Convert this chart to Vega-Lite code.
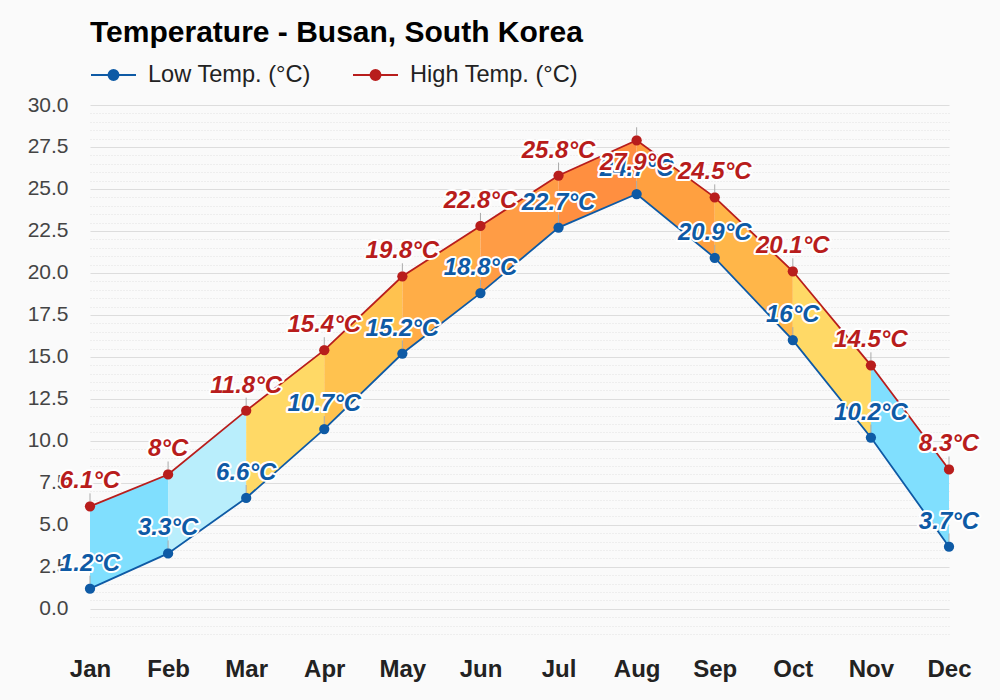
{
  "$schema": "https://vega.github.io/schema/vega-lite/v6.json",
  "width": 859,
  "height": 529,
  "autosize": {"type": "none"},
  "padding": {"left": 90, "top": 105, "right": 51, "bottom": 66},
  "background": "#fafafa",
  "title": {"text": "Temperature - Busan, South Korea", "anchor": "start", "frame": "group", "fontSize": 30, "font": "Liberation Sans", "fontWeight": "bold", "color": "#000000", "offset": 3},
  "config": {"view": {"stroke": null}, "font": "Liberation Sans", "axis": {"title": null}},
  "datasets": {
    "temps": [
      {"month": "Jan", "series": "low", "temp": 1.2}, {"month": "Feb", "series": "low", "temp": 3.3},
      {"month": "Mar", "series": "low", "temp": 6.6}, {"month": "Apr", "series": "low", "temp": 10.7},
      {"month": "May", "series": "low", "temp": 15.2}, {"month": "Jun", "series": "low", "temp": 18.8},
      {"month": "Jul", "series": "low", "temp": 22.7}, {"month": "Aug", "series": "low", "temp": 24.7},
      {"month": "Sep", "series": "low", "temp": 20.9}, {"month": "Oct", "series": "low", "temp": 16},
      {"month": "Nov", "series": "low", "temp": 10.2}, {"month": "Dec", "series": "low", "temp": 3.7},
      {"month": "Jan", "series": "high", "temp": 6.1}, {"month": "Feb", "series": "high", "temp": 8},
      {"month": "Mar", "series": "high", "temp": 11.8}, {"month": "Apr", "series": "high", "temp": 15.4},
      {"month": "May", "series": "high", "temp": 19.8}, {"month": "Jun", "series": "high", "temp": 22.8},
      {"month": "Jul", "series": "high", "temp": 25.8}, {"month": "Aug", "series": "high", "temp": 27.9},
      {"month": "Sep", "series": "high", "temp": 24.5}, {"month": "Oct", "series": "high", "temp": 20.1},
      {"month": "Nov", "series": "high", "temp": 14.5}, {"month": "Dec", "series": "high", "temp": 8.3}
    ],
    "bands": [
      {"seg": "s01", "month": "Jan", "low": 1.2, "high": 6.1}, {"seg": "s01", "month": "Feb", "low": 3.3, "high": 8},
      {"seg": "s02", "month": "Feb", "low": 3.3, "high": 8}, {"seg": "s02", "month": "Mar", "low": 6.6, "high": 11.8},
      {"seg": "s03", "month": "Mar", "low": 6.6, "high": 11.8}, {"seg": "s03", "month": "Apr", "low": 10.7, "high": 15.4},
      {"seg": "s04", "month": "Apr", "low": 10.7, "high": 15.4}, {"seg": "s04", "month": "May", "low": 15.2, "high": 19.8},
      {"seg": "s05", "month": "May", "low": 15.2, "high": 19.8}, {"seg": "s05", "month": "Jun", "low": 18.8, "high": 22.8},
      {"seg": "s06", "month": "Jun", "low": 18.8, "high": 22.8}, {"seg": "s06", "month": "Jul", "low": 22.7, "high": 25.8},
      {"seg": "s07", "month": "Jul", "low": 22.7, "high": 25.8}, {"seg": "s07", "month": "Aug", "low": 24.7, "high": 27.9},
      {"seg": "s08", "month": "Aug", "low": 24.7, "high": 27.9}, {"seg": "s08", "month": "Sep", "low": 20.9, "high": 24.5},
      {"seg": "s09", "month": "Sep", "low": 20.9, "high": 24.5}, {"seg": "s09", "month": "Oct", "low": 16, "high": 20.1},
      {"seg": "s10", "month": "Oct", "low": 16, "high": 20.1}, {"seg": "s10", "month": "Nov", "low": 10.2, "high": 14.5},
      {"seg": "s11", "month": "Nov", "low": 10.2, "high": 14.5}, {"seg": "s11", "month": "Dec", "low": 3.7, "high": 8.3}
    ]
  },
  "resolve": {"axis": {"y": "independent"}},
  "layer": [
    {
      "mark": {"type": "rule", "color": "#333333", "strokeWidth": 1},
      "encoding": {
        "y": {"datum": 0, "type": "quantitative", "scale": {"domain": [-1.5, 30], "nice": false, "zero": false},
          "axis": {"orient": "right", "values": [-1.5, -1, -0.5, 0.5, 1, 1.5, 2, 3, 3.5, 4, 4.5, 5.5, 6, 6.5, 7, 8, 8.5, 9, 9.5, 10.5, 11, 11.5, 12, 13, 13.5, 14, 14.5, 15.5, 16, 16.5, 17, 18, 18.5, 19, 19.5, 20.5, 21, 21.5, 22, 23, 23.5, 24, 24.5, 25.5, 26, 26.5, 27, 28, 28.5, 29, 29.5],
            "labels": false, "ticks": false, "domain": false, "grid": true, "gridColor": "#e3e3e3", "gridDash": [1, 2], "gridWidth": 1}}
      }
    },
    {
      "layer": [
        {
          "data": {"name": "bands"},
          "mark": {"type": "area", "opacity": 1},
          "encoding": {
            "x": {"field": "month", "type": "ordinal", "sort": null,
              "scale": {"type": "point", "padding": 0, "domain": ["Jan", "Feb", "Mar", "Apr", "May", "Jun", "Jul", "Aug", "Sep", "Oct", "Nov", "Dec"]},
              "axis": {"labelAngle": 0, "labelFontSize": 24, "labelFontWeight": "bold", "labelColor": "#222222", "ticks": false, "tickSize": 0, "domain": false, "labelPadding": 23, "grid": false}},
            "y": {"field": "high", "type": "quantitative", "scale": {"domain": [-1.5, 30], "nice": false, "zero": false},
              "axis": {"values": [0, 2.5, 5, 7.5, 10, 12.5, 15, 17.5, 20, 22.5, 25, 27.5, 30], "format": ".1f", "labelFontSize": 21, "labelColor": "#444444", "ticks": false, "tickSize": 0, "domain": false, "labelPadding": 22, "grid": true, "gridColor": "#dddddd", "gridWidth": 1}},
            "y2": {"field": "low"},
            "fill": {"field": "seg", "type": "nominal", "legend": null,
              "scale": {"domain": ["s01", "s02", "s03", "s04", "s05", "s06", "s07", "s08", "s09", "s10", "s11"],
                "range": ["#80dffe", "#b9eefc", "#ffd966", "#ffc24f", "#ffad47", "#ff9c45", "#ff8f40", "#ffa040", "#ffb649", "#ffd966", "#80dffe"]}}
          }
        },
        {
          "data": {"name": "temps"},
          "mark": {"type": "line", "strokeWidth": 1.8},
          "encoding": {
            "x": {"field": "month", "type": "ordinal", "sort": null},
            "y": {"field": "temp", "type": "quantitative"},
            "color": {"field": "series", "type": "nominal",
              "scale": {"domain": ["low", "high"], "range": ["#0e5aa5", "#b81d1c"]},
              "legend": {"orient": "none", "legendX": 0, "legendY": -54, "direction": "horizontal", "title": null,
                "labelExpr": "datum.label == 'low' ? 'Low Temp. (°C)' : 'High Temp. (°C)'",
                "labelFontSize": 23.6, "labelLimit": 400, "labelColor": "#222222", "labelFont": "Liberation Sans", "labelOffset": 11, "columnPadding": 38,
                "symbolType": "M-1,0L1,0M-0.22,0A0.22,0.22,0,1,0,0.22,0A0.22,0.22,0,1,0,-0.22,0Z", "symbolSize": 2025, "symbolStrokeWidth": 2,
                "encode": {"symbols": {"update": {"fill": {"scale": "color", "field": "value"}, "stroke": {"scale": "color", "field": "value"}, "opacity": {"value": 1}, "strokeWidth": {"value": 2}}}}}
            }
          }
        },
        {
          "data": {"name": "temps"},
          "mark": {"type": "circle", "size": 105, "opacity": 1},
          "encoding": {
            "x": {"field": "month", "type": "ordinal", "sort": null},
            "y": {"field": "temp", "type": "quantitative"},
            "color": {"field": "series", "type": "nominal"}
          }
        },
        {
          "data": {"name": "temps"},
          "mark": {"type": "rule", "color": "#aaaaaa", "strokeWidth": 1, "y2Offset": -13, "yOffset": -5},
          "encoding": {
            "x": {"field": "month", "type": "ordinal", "sort": null},
            "y": {"field": "temp", "type": "quantitative"},
            "y2": {"field": "temp"}
          }
        },
        {
          "data": {"name": "temps"},
          "transform": [
            {"filter": "!(datum.month == 'Aug' && datum.series == 'high')"},
            {"calculate": "format(datum.temp, '.1~f') + '°C'", "as": "label"}
          ],
          "mark": {"type": "text", "fontSize": 24, "fontWeight": "bold", "fontStyle": "italic", "baseline": "middle", "align": "center", "dy": -25, "fill": "#ffffff", "stroke": "#ffffff", "strokeWidth": 4, "strokeJoin": "round"},
          "encoding": {
            "x": {"field": "month", "type": "ordinal", "sort": null},
            "y": {"field": "temp", "type": "quantitative"},
            "text": {"field": "label"}
          }
        },
        {
          "data": {"name": "temps"},
          "transform": [
            {"filter": "!(datum.month == 'Aug' && datum.series == 'high')"},
            {"calculate": "format(datum.temp, '.1~f') + '°C'", "as": "label"}
          ],
          "mark": {"type": "text", "fontSize": 24, "fontWeight": "bold", "fontStyle": "italic", "baseline": "middle", "align": "center", "dy": -25},
          "encoding": {
            "x": {"field": "month", "type": "ordinal", "sort": null},
            "y": {"field": "temp", "type": "quantitative"},
            "text": {"field": "label"},
            "color": {"field": "series", "type": "nominal"}
          }
        },
        {
          "data": {"name": "temps"},
          "transform": [
            {"filter": "datum.month == 'Aug' && datum.series == 'high'"},
            {"calculate": "format(datum.temp, '.1~f') + '°C'", "as": "label"}
          ],
          "mark": {"type": "text", "fontSize": 24, "fontWeight": "bold", "fontStyle": "italic", "baseline": "middle", "align": "center", "dy": 23, "fill": "#ffffff", "stroke": "#ffffff", "strokeWidth": 4, "strokeJoin": "round"},
          "encoding": {
            "x": {"field": "month", "type": "ordinal", "sort": null},
            "y": {"field": "temp", "type": "quantitative"},
            "text": {"field": "label"}
          }
        },
        {
          "data": {"name": "temps"},
          "transform": [
            {"filter": "datum.month == 'Aug' && datum.series == 'high'"},
            {"calculate": "format(datum.temp, '.1~f') + '°C'", "as": "label"}
          ],
          "mark": {"type": "text", "fontSize": 24, "fontWeight": "bold", "fontStyle": "italic", "baseline": "middle", "align": "center", "dy": 23},
          "encoding": {
            "x": {"field": "month", "type": "ordinal", "sort": null},
            "y": {"field": "temp", "type": "quantitative"},
            "text": {"field": "label"},
            "color": {"field": "series", "type": "nominal"}
          }
        }
      ]
    }
  ]
}
